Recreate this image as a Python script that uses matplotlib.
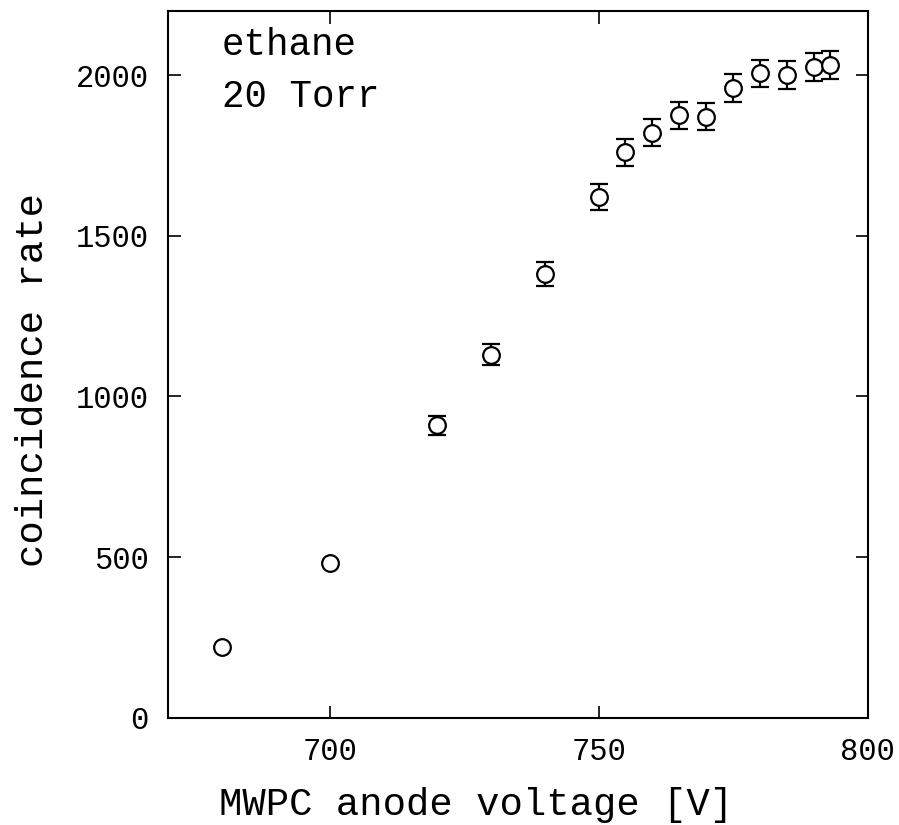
import matplotlib.pyplot as plt
import numpy as np

# MWPC coincidence rate vs anode voltage (ethane, 20 Torr)
voltage = [680, 700, 720, 730, 740, 750, 755, 760, 765, 770, 775, 780, 785, 790, 793]
rate = [220, 480, 910, 1130, 1380, 1620, 1760, 1820, 1875, 1870, 1960, 2005, 2000, 2025, 2030]
err = [np.nan, np.nan, 30, 33, 37, 40, 42, 42, 42, 42, 43, 43, 43, 44, 44]

plt.rcParams['font.family'] = ['Liberation Mono', 'DejaVu Sans Mono']

fig = plt.figure(figsize=(8.99, 8.25), dpi=100)
ax = fig.add_axes([0.187, 0.130, 0.778, 0.857])

ax.errorbar(voltage, rate, yerr=err, fmt='o', ms=12, mfc='white', mec='black',
            mew=1.6, ecolor='black', elinewidth=1.6, capsize=6.5, capthick=1.6)

ax.set_xlim(670, 800)
ax.set_ylim(0, 2200)
ax.set_xticks([700, 750, 800])
ax.set_yticks([0, 500, 1000, 1500, 2000])
ax.tick_params(direction='in', length=9, width=1.2, top=True, right=True,
               labelsize=22, pad=14)
for s in ax.spines.values():
    s.set_linewidth(1.5)

ax.set_xlabel('MWPC anode voltage [V]', fontsize=28)
ax.set_ylabel('coincidence rate', fontsize=28)
ax.xaxis.set_label_coords(0.441, -0.098)
ax.yaxis.set_label_coords(-0.168, 0.477)

ax.text(0.077, 0.951, 'ethane', transform=ax.transAxes, fontsize=27, va='center')
ax.text(0.077, 0.878, '20 Torr', transform=ax.transAxes, fontsize=27, va='center')

plt.savefig('out.png', dpi=100)
